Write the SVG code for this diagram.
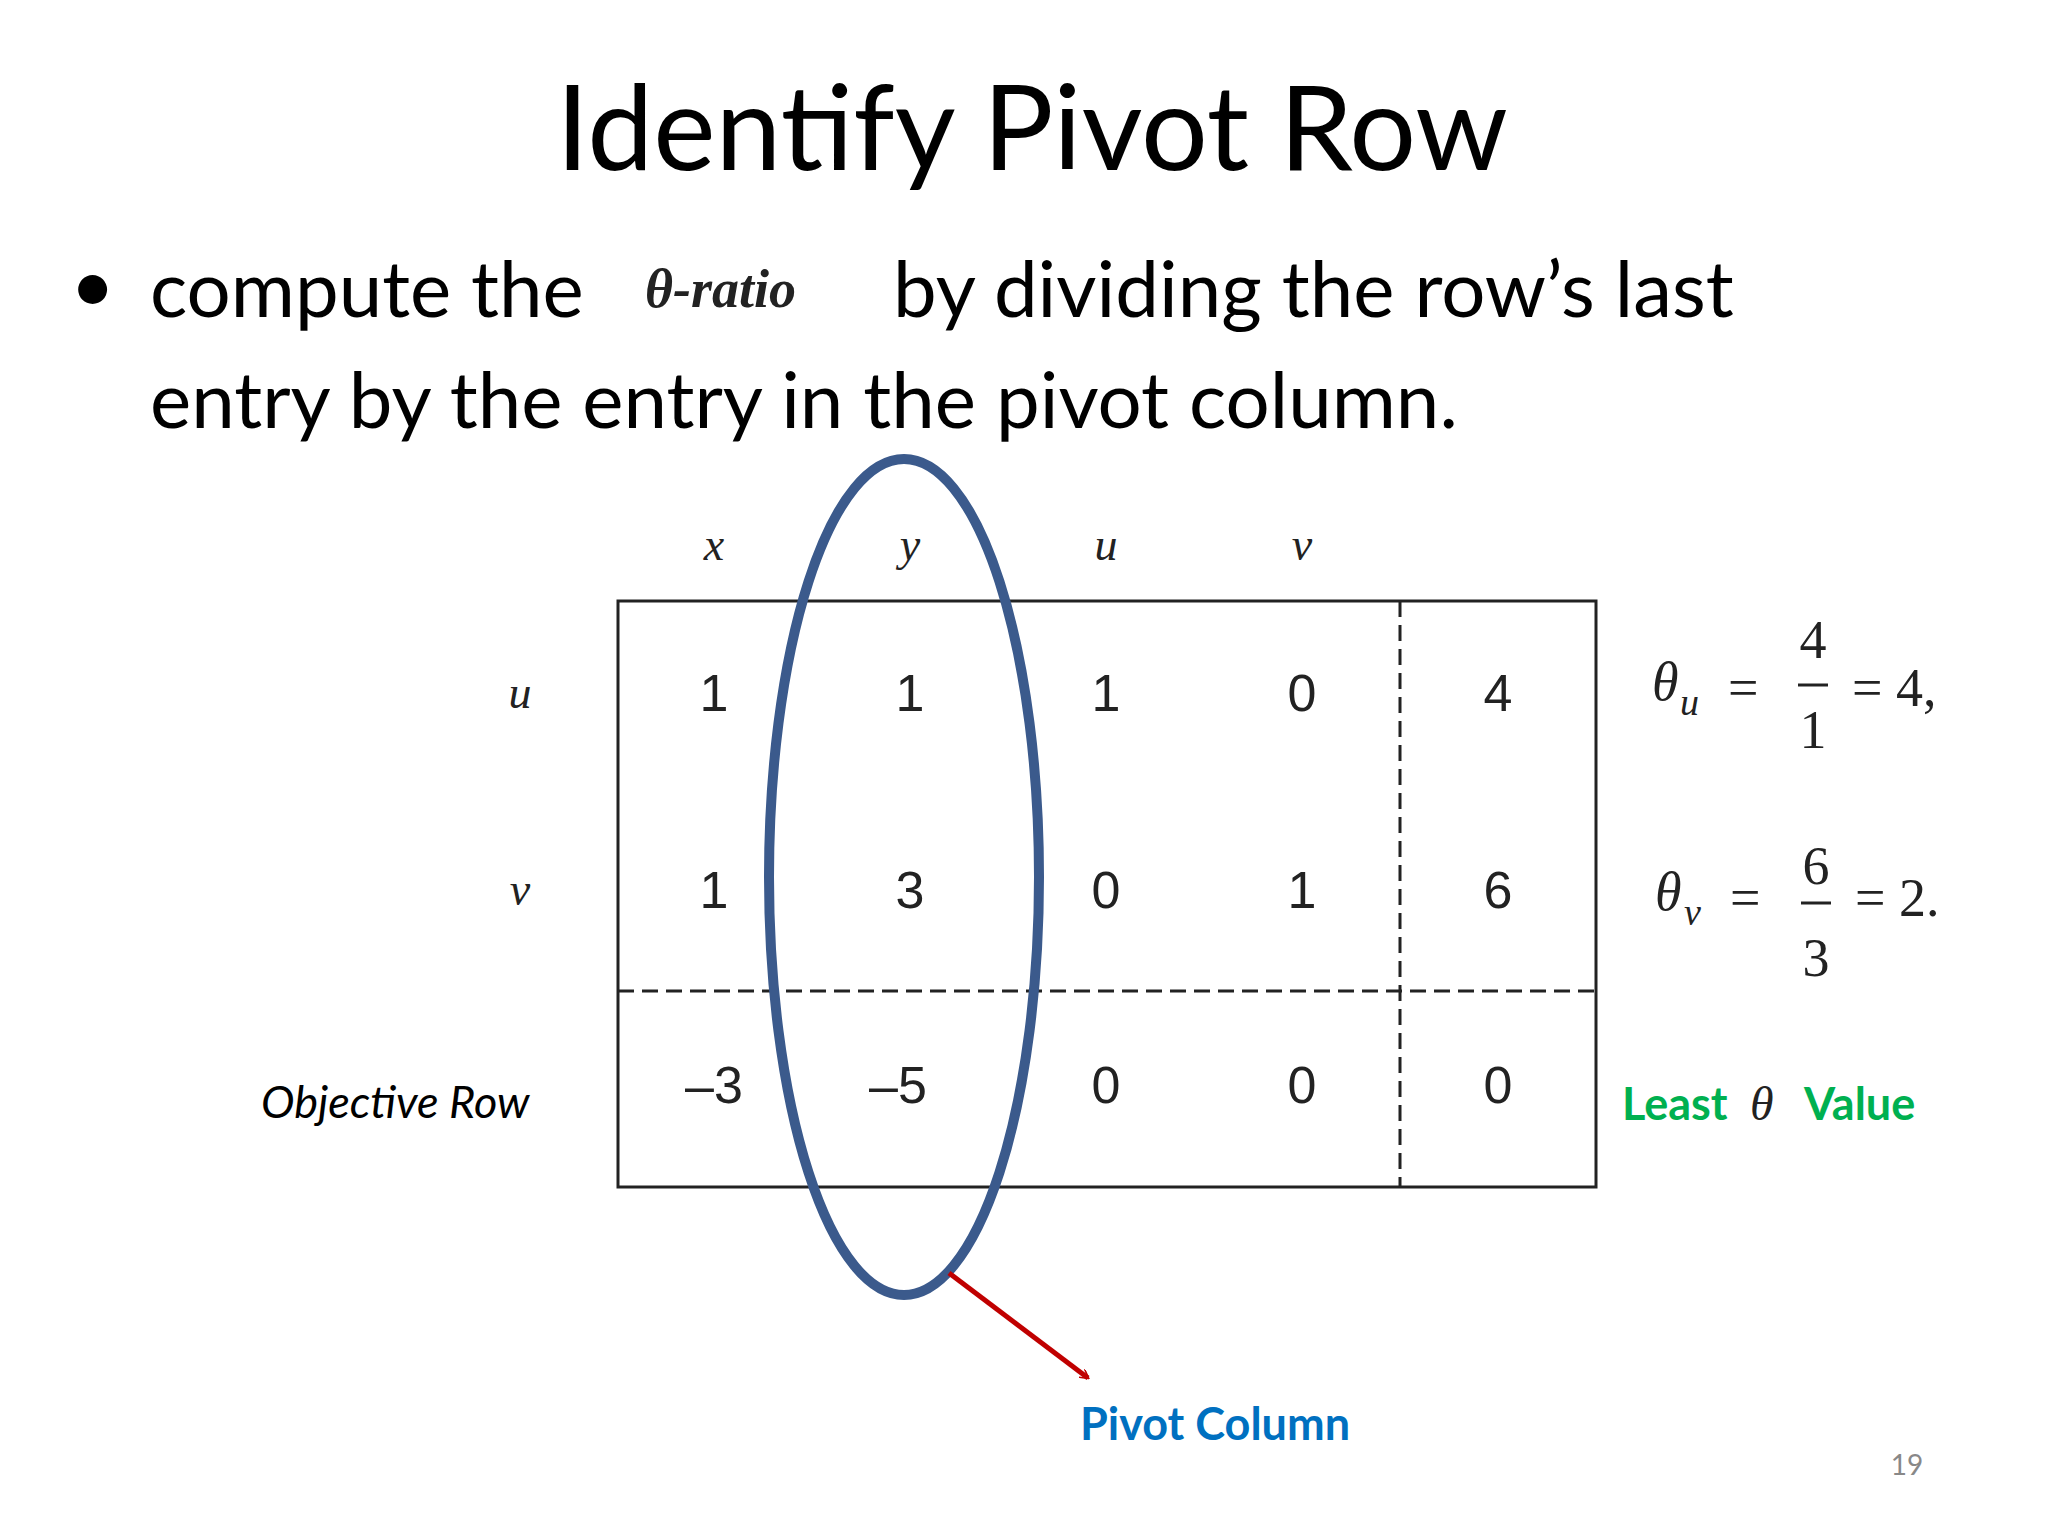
<svg xmlns="http://www.w3.org/2000/svg" width="2048" height="1536" viewBox="0 0 2048 1536">
<style>
.t{font-family:Lato,"Open Sans",sans-serif;fill:#000}
.n{font-family:"Liberation Sans",Arial,sans-serif;font-size:52px;fill:#222;text-anchor:middle}
.m{font-family:"Liberation Serif","Times New Roman",serif;font-style:italic;fill:#222}
.r{font-family:"Liberation Serif","Times New Roman",serif;fill:#222}
</style>
<defs><marker id="ah" markerWidth="10" markerHeight="10" refX="8" refY="5" orient="auto" markerUnits="userSpaceOnUse" viewBox="0 0 10 10"><path d="M0,0 L9,5 L0,10" fill="none" stroke="#c00000" stroke-width="1.6"/></marker></defs>
<rect width="2048" height="1536" fill="#fff"/>
<text class="t" x="1032" y="170" font-size="118" text-anchor="middle">Identify Pivot Row</text>
<text class="t" x="70" y="313" font-size="78">•</text>
<text class="t" x="150" y="317" font-size="78">compute the</text>
<text x="645" y="307" font-size="54" font-weight="bold" class="m">θ-ratio</text>
<text class="t" x="893" y="317" font-size="78">by dividing the row’s last</text>
<text class="t" x="150" y="428" font-size="78">entry by the entry in the pivot column.</text>
<g id="table">
<rect x="618" y="601" width="978" height="586" fill="none" stroke="#222" stroke-width="3"/>
<line x1="1400" y1="601" x2="1400" y2="1187" stroke="#222" stroke-width="3" stroke-dasharray="16,8"/>
<line x1="618" y1="991" x2="1596" y2="991" stroke="#222" stroke-width="3" stroke-dasharray="16,8"/>
</g>
<g id="headers" font-size="46">
<text class="m" x="714" y="560" text-anchor="middle">x</text>
<text class="m" x="910" y="560" text-anchor="middle">y</text>
<text class="m" x="1106" y="560" text-anchor="middle">u</text>
<text class="m" x="1302" y="560" text-anchor="middle">v</text>
<text class="m" x="520" y="708" text-anchor="middle">u</text>
<text class="m" x="520" y="905" text-anchor="middle">v</text>
</g>
<g id="cells">
<text class="n" x="714" y="711">1</text><text class="n" x="910" y="711">1</text><text class="n" x="1106" y="711">1</text><text class="n" x="1302" y="711">0</text><text class="n" x="1498" y="711">4</text>
<text class="n" x="714" y="908">1</text><text class="n" x="910" y="908">3</text><text class="n" x="1106" y="908">0</text><text class="n" x="1302" y="908">1</text><text class="n" x="1498" y="908">6</text>
<text class="n" x="714" y="1103">–3</text><text class="n" x="898" y="1103">–5</text><text class="n" x="1106" y="1103">0</text><text class="n" x="1302" y="1103">0</text><text class="n" x="1498" y="1103">0</text>
</g>
<text class="t" x="261" y="1118" font-size="45" font-style="italic">Objective Row</text>
<g id="eq1" font-size="54">
<text class="m" x="1652" y="700">θ</text><text class="m" x="1680" y="715" font-size="38">u</text>
<text class="r" x="1728" y="706">=</text>
<text class="r" x="1813" y="658" text-anchor="middle">4</text>
<line x1="1798" y1="685" x2="1828" y2="685" stroke="#222" stroke-width="3"/>
<text class="r" x="1813" y="748" text-anchor="middle">1</text>
<text class="r" x="1852" y="706">= 4,</text>
</g>
<g id="eq2" font-size="54">
<text class="m" x="1655" y="910">θ</text><text class="m" x="1684" y="925" font-size="38">v</text>
<text class="r" x="1730" y="916">=</text>
<text class="r" x="1816" y="884" text-anchor="middle">6</text>
<line x1="1801" y1="903" x2="1831" y2="903" stroke="#222" stroke-width="3"/>
<text class="r" x="1816" y="976" text-anchor="middle">3</text>
<text class="r" x="1855" y="916">= 2.</text>
</g>
<rect x="1965" y="600" width="83" height="400" fill="#fff"/>
<text x="1622" y="1120" font-family="Lato,sans-serif" font-weight="bold" font-size="45" fill="#00b050">Least</text>
<text class="m" x="1750" y="1120" font-size="48">θ</text>
<text x="1804" y="1120" font-family="Lato,sans-serif" font-weight="bold" font-size="45" fill="#00b050">Value</text>
<g id="connectors">
<ellipse cx="904" cy="877" rx="135" ry="418" fill="none" stroke="#3b5a8c" stroke-width="10"/>
<line x1="949" y1="1273" x2="1088" y2="1378" stroke="#c00000" stroke-width="5" marker-end="url(#ah)"/>
</g>
<text x="1215" y="1440" font-family="Lato,sans-serif" font-weight="bold" font-size="45" fill="#0070c0" text-anchor="middle">Pivot Column</text>
<text x="1907" y="1475" font-family="Lato,sans-serif" font-size="28" fill="#888" text-anchor="middle">19</text>
</svg>
